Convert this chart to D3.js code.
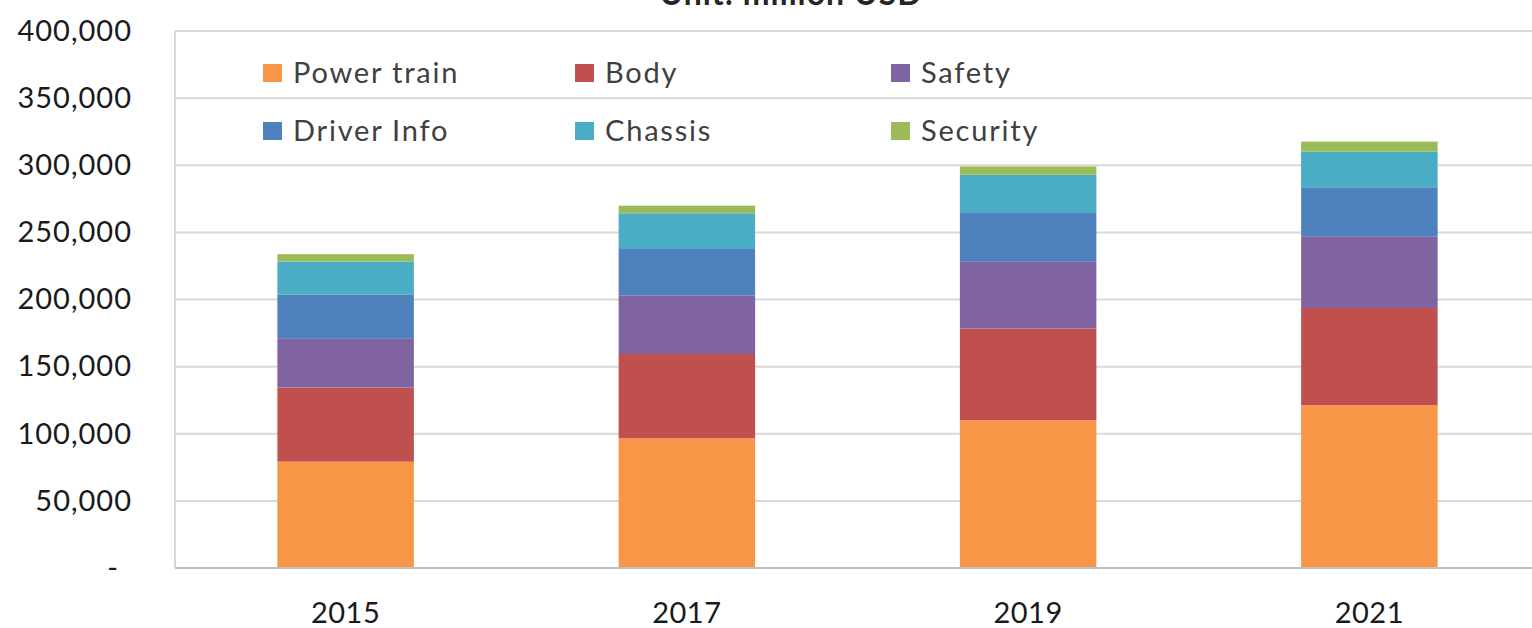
<!DOCTYPE html>
<html>
<head>
<meta charset="utf-8">
<script src="https://cdn.jsdelivr.net/npm/d3@7"></script>
<style>
    html, body { margin: 0; padding: 0; background: #fff; overflow: hidden; }
    svg { display: block; font-family: Lato, "Open Sans", sans-serif; }
</style>
</head>
<body>
<div id="chart"></div>
<script>
const width = 1532;
const height = 628;

// values (million USD)
const years = ["2015", "2017", "2019", "2021"];
const powerTrain = [79200, 96600, 110100, 121200];
const body = [55200, 62800, 68300, 72500];
const safety = [36300, 43700, 49700, 53400];
const driverInfo = [32800, 34500, 36300, 36500];
const chassis = [24800, 26600, 28500, 26500];
const security = [5500, 5700, 6200, 7500];

const seriesNames = ["Power train", "Body", "Safety", "Driver Info", "Chassis", "Security"];
const seriesValues = [powerTrain, body, safety, driverInfo, chassis, security];
const colors = ["#F79646", "#C0504D", "#8064A2", "#4F81BD", "#4BACC6", "#9BBB59"];
const yTicks = [0, 50000, 100000, 150000, 200000, 250000, 300000, 350000, 400000];

(function main(){
    const margin = {left: 175, top: 31, bottom: 568, right: 1540};

    const rows = years.map((y, i) => {
        const row = {year: y};
        seriesNames.forEach((s, j) => row[s] = seriesValues[j][i]);
        return row;
    });
    const stacked = d3.stack().keys(seriesNames)(rows);

    const svg = d3.select("#chart")
        .append("svg")
        .attr("width", width)
        .attr("height", height);

    const xScale = d3.scaleBand()
        .domain(years)
        .range([margin.left, margin.right])
        .paddingInner(0.6)
        .paddingOuter(0.3);

    const yScale = d3.scaleLinear()
        .domain([0, 400000])
        .range([margin.bottom, margin.top]);

    const color = d3.scaleOrdinal().domain(seriesNames).range(colors);

    // title, mostly cut off by the top edge like in the source
    svg.append("text")
        .attr("x", 791)
        .attr("y", 5)
        .attr("text-anchor", "middle")
        .attr("font-size", 32)
        .attr("font-weight", "bold")
        .attr("letter-spacing", 1)
        .attr("fill", "#262626")
        .text("Unit: million USD");

    // gridlines
    svg.append("g")
        .selectAll("line")
        .data(yTicks.filter(d => d > 0))
        .join("line")
        .attr("x1", margin.left)
        .attr("x2", width)
        .attr("y1", d => yScale(d))
        .attr("y2", d => yScale(d))
        .attr("stroke", "#d9d9d9")
        .attr("stroke-width", 2);

    // left border of plot area
    svg.append("line")
        .attr("x1", margin.left).attr("x2", margin.left)
        .attr("y1", yScale(400000)).attr("y2", yScale(0))
        .attr("stroke", "#d9d9d9")
        .attr("stroke-width", 2);

    // bars
    svg.append("g")
        .selectAll("g")
        .data(stacked)
        .join("g")
        .attr("fill", d => color(d.key))
        .selectAll("rect")
        .data(d => d)
        .join("rect")
        .attr("x", d => xScale(d.data.year))
        .attr("width", xScale.bandwidth())
        .attr("y", d => yScale(d[1]))
        .attr("height", d => yScale(d[0]) - yScale(d[1]));

    // x axis line
    svg.append("line")
        .attr("x1", margin.left).attr("x2", width)
        .attr("y1", yScale(0)).attr("y2", yScale(0))
        .attr("stroke", "#bfbfbf")
        .attr("stroke-width", 2);

    // y axis labels (accounting style: zero shown as a dash)
    const yAxis = d3.axisLeft(yScale)
        .tickValues(yTicks)
        .tickSize(0)
        .tickPadding(43)
        .tickFormat(d => d === 0 ? "-" : d3.format(",")(d));
    svg.append("g")
        .attr("transform", `translate(${margin.left},0)`)
        .call(yAxis)
        .call(g => g.select(".domain").remove())
        .call(g => g.selectAll("text")
            .attr("font-family", "Lato, sans-serif")
            .attr("font-size", 29)
            .attr("letter-spacing", 1)
            .attr("fill", "#1a1a1a")
            .attr("dx", d => d === 0 ? -13 : 0));

    // x axis labels
    const xAxis = d3.axisBottom(xScale).tickSize(0).tickPadding(34);
    svg.append("g")
        .attr("transform", `translate(0,${yScale(0)})`)
        .call(xAxis)
        .call(g => g.select(".domain").remove())
        .call(g => g.selectAll("text")
            .attr("font-family", "Lato, sans-serif")
            .attr("font-size", 29)
            .attr("letter-spacing", 0.5)
            .attr("fill", "#1a1a1a"));

    // legend, two rows of three
    const legendX = [263, 575, 891];
    const legendY = [73, 131];
    const legend = svg.append("g")
        .selectAll("g")
        .data(seriesNames)
        .join("g")
        .attr("transform", (d, i) => `translate(${legendX[i % 3]},${legendY[Math.floor(i / 3)]})`);
    legend.append("rect")
        .attr("x", 0)
        .attr("y", -9)
        .attr("width", 19)
        .attr("height", 18)
        .attr("fill", d => color(d));
    legend.append("text")
        .attr("x", 30)
        .attr("y", 0)
        .attr("dy", "0.35em")
        .attr("font-size", 29)
        .attr("letter-spacing", 1.8)
        .attr("fill", "#404040")
        .text(d => d);
})();
</script>
</body>
</html>
